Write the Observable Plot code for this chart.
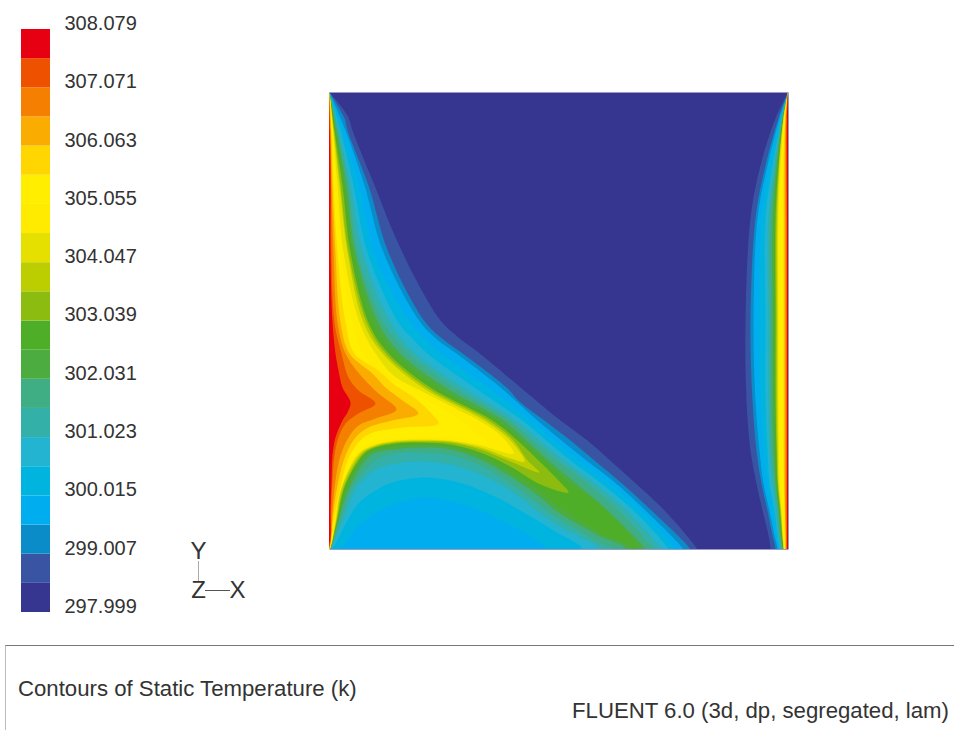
<!DOCTYPE html>
<html><head><meta charset="utf-8">
<script src="https://cdn.jsdelivr.net/npm/d3@7"></script>
<script src="https://cdn.jsdelivr.net/npm/@observablehq/plot@0.6"></script>
<style>
html,body{margin:0;padding:0;background:#fff}
#page{position:relative;width:954px;height:730px;overflow:hidden;font-family:"Liberation Sans",Arial,sans-serif;color:#333}
#page>svg,#page>figure{position:absolute;left:0;top:0;margin:0}
.foot{position:absolute;white-space:nowrap;font-size:22.2px;color:#333;line-height:24px}
#rule{position:absolute;left:5px;right:0;top:645px;height:85px;border-top:1.5px solid #777;border-left:1px solid #bbb}
</style></head><body><div id="page"></div>
<script>
// Temperature levels (K): 20 bands
const thresholds = [297.999,298.503,299.007,299.511,300.015,300.519,301.023,301.527,302.031,302.535,303.039,303.543,304.047,304.551,305.055,305.559,306.063,306.567,307.071,307.575,308.079];
const labelled = [297.999,299.007,300.015,301.023,302.031,303.039,304.047,305.055,306.063,307.071,308.079];
const colors = ["#36358f","#3a54a4","#0a8cc8","#00aeef","#00b4e0","#22b4d0","#33b0a8","#3fae85","#4dac40","#4fae28","#8cbc10","#bcce00","#e5e000","#ffeb00","#ffee00","#ffd600","#fbac00","#f47f00","#ee5200","#e60012"];

// Left-hand contours, one outline per level (region hotter than that level)
const left01=[[329,92],[347,115],[352,130],[363,158],[377,192],[387,218],[402,252],[417,282],[440,320],[458,337],[478,352],[520,387],[560,420],[587,440],[613,463],[632,480],[664,510],[697,549],[700,556],[325,556]];
const left02=[[329,92],[344,118],[347,130],[368,185],[388,252],[425,322],[444,340],[462,353],[506,387],[520,402],[544,420],[570,440],[594,460],[618,480],[651,510],[690,549],[693,556],[325,556]];
const left03=[[329,92],[345,130],[364,185],[383,252],[420,322],[439,341],[456,353],[500,387],[537,420],[561,440],[586,460],[612,480],[645,510],[683,549],[686,556],[325,556]];
const left04=[[329,92],[342,130],[358,185],[373,252],[410,322],[427,340],[441,353],[488,387],[530,420],[553,440],[578,460],[605,480],[640,510],[675,549],[677,556],[543,556],[545,548],[500,520],[460,503],[425,497],[390,505],[358,525],[340,548],[325,556]];
const left05=[[329,92],[340,130],[353,185],[367,252],[398,322],[412,338],[427,353],[474,387],[522,420],[546,440],[570,460],[597,480],[633,510],[668,549],[670,556],[580,556],[582,548],[558,533],[525,513],[492,495],[458,482],[425,477],[392,482],[375,490],[358,503],[347,520],[332,548],[325,556]];
const left06=[[329,92],[338,130],[350,185],[362,252],[390,322],[415,353],[462,387],[515,420],[539,440],[563,460],[590,480],[626,510],[660,549],[662,556],[596,556],[598,548],[580,537],[558,525],[540,513],[510,490],[480,474],[450,464],[420,461],[395,463],[375,469],[365,477],[356,487],[342,520],[330.5,548],[325,556]];
const left07=[[329,92],[337,130],[348,185],[357,252],[383,322],[408,353],[453,387],[509,420],[532,440],[556,460],[583,480],[618,510],[652,549],[654,556],[610,556],[612,548],[600,543],[580,531],[558,518],[540,505],[510,483],[480,465],[450,455],[420,452],[395,453],[375,460],[352,487],[340,520],[330,548],[325,556]];
const left08=[[329,92],[336,130],[346,185],[355,252],[378,322],[400,353],[445,387],[503,420],[526,440],[548,460],[572,480],[607,510],[645,549],[647,556],[623,556],[625,548],[600,536],[580,525],[558,512],[540,497],[510,476],[480,459],[450,449],[420,447],[395,449],[371,454],[349,487],[338,520],[329.8,548],[325,556]];
const left09=[[329,92],[335,130],[344,185],[353,252],[373,322],[395,353],[437,387],[497,420],[521,440],[544,460],[566,480],[606,510],[638,549],[639,556],[631,556],[632,548],[600,533],[580,520],[558,506],[540,491],[510,472],[480,455],[450,446],[420,444],[395,446],[367,453],[347,487],[337,520],[329.6,548],[325,556]];
const left10=[[329,92],[334,130],[342,185],[350,252],[368,322],[388,353],[430,387],[492,420],[517,440],[538,460],[558,480],[568,492],[540,484],[510,466],[480,452],[450,444],[420,442],[395,443],[375,447],[364,453],[345,484],[336.5,520],[330,547],[325,556]];
const left11=[[329,92],[333.5,130],[340,185],[348,252],[366,322],[385,353],[426,387],[488,420],[513,440],[527,460],[539,472],[510,461],[480,449],[450,442],[420,441],[395,442],[375,446],[362,453],[343,487],[336,520],[329.6,548],[325,556]];
const left12=[[329,92],[333,130],[339,185],[347,252],[363,322],[382,353],[422,387],[484,420],[510,440],[524,461],[510,458],[480,447],[450,441],[420,440],[395,441],[375,445],[360,453],[341.5,487],[335.5,520],[329.5,548],[325,556]];
const left13=[[329,92],[332.5,130],[337,185],[343,252],[359,322],[375,353],[393,375],[420,390],[453,407],[487,425],[505,440],[513,453],[480,445],[450,440],[420,439],[395,440],[375,444],[358,453],[340,487],[335,520],[329.5,548],[325,556]];
const left14=[[329,92],[332,130],[335,185],[340,252],[352,322],[362,353],[385,375],[420,396],[453,415],[470,428],[487,443],[450,437],[420,437],[395,438],[375,441],[360,450],[350,465],[340,490],[334,520],[329.5,548],[325,556]];
const left15=[[329,92],[331,130],[333,185],[337,252],[345,322],[354,353],[378,370],[395,385],[415,398],[430,412],[438,423],[403,427],[370,433],[357,443],[347,460],[340,487],[333,520],[329.5,548],[325,556]];
const left16=[[329,92],[330.5,130],[332,185],[335,252],[340,322],[349,353],[372,373],[385,387],[402,400],[418,413],[392,420],[368,427],[355,437],[345,455],[338,480],[333,510],[330,540],[325,556]];
const left17=[[329,92],[330,130],[331,185],[333,252],[337,322],[345,353],[362,377],[378,393],[396,409],[375,418],[358,425],[348,437],[340,455],[335,480],[332,510],[330,540],[325,556]];
const left18=[[329,92],[329.7,130],[330.5,185],[331,252],[334,322],[341,353],[348,377],[358,390],[375,403],[358,413],[345,423],[338,437],[334,455],[332,480],[330.5,515],[329.5,545],[325,556]];
const left19=[[329,92],[329.4,130],[330,185],[330,252],[332,322],[335,353],[338,370],[342,387],[350,402],[347,412],[342,420],[335,437],[332,455],[331,480],[330,510],[329.5,540],[325,556]];
const leftContours=[left01,left02,left03,left04,left05,left06,left07,left08,left09,left10,left11,left12,left13,left14,left15,left16,left17,left18,left19];

// Right-hand wall strip: contour x at these heights, one row per level
const rightHeights=[118,165,218,320,400,450,483,510,535,548];
const rightContours=[
[775,760,750,745,746,750,756,762,768,770],
[778,765,755,750,752,756,761,767,772,775],
[779,767,757,753,755,759,763,769,774,777],
[780,769,761,759,760,763,767,772,776,778],
[781,772,765,765,765,767,769,774,777,779],
[781,774,768,768,768,769,772,776,778,780],
[782,775,770,770,770,771,774,777,779,781],
[782,776,772,772,772,773,775,778,780,782],
[782.5,777,774,774,774,775,776,779,781,782.5],
[783,778,775,775,775,776,777,779.5,781.5,783],
[783,778.5,776,776,776,776.5,777.5,780,782,783],
[783,779,777,777,777,777.5,778,780.5,782,783],
[783.5,780,778,778,778,778.5,779,781,782.5,783.5],
[784,781,780,780,780,780,781,782,783,784],
[784.5,783,783,783,783,783,783.5,784,784,784.5],
[785,784,784,784,784,784,784,784.5,785,785],
[785.5,785,785,785,785,785,785,785,785.5,785.5],
[786,785.5,786,786,786,786,786,786,786,786],
[786.5,786.5,786.5,786.5,786.5,786.5,786.5,786.5,786.5,786.5]];

const axesLetters=[{t:"Y",x:198,y:551},{t:"Z",x:198,y:590},{t:"X",x:237,y:590}];

const rows=[];
leftContours.forEach((pts,i)=>pts.forEach(([x,y])=>rows.push({band:thresholds[i+1],part:"L"+i,x,y})));
rightContours.forEach((xs,i)=>{
  const pts=[[787.5,92],...xs.map((x,j)=>[x,rightHeights[j]]),[xs[xs.length-1],556],[792,556],[792,90]];
  pts.forEach(([x,y])=>rows.push({band:thresholds[i+1],part:"R"+i,x,y}));
});
const colorScale={type:"ordinal",domain:thresholds.slice(0,-1),range:colors};

const main=Plot.plot({
  width:954,height:730,marginLeft:329,marginRight:166,marginTop:92,marginBottom:181,
  x:{domain:[329,788],axis:null},y:{domain:[549,92],axis:null},color:colorScale,
  style:{background:"transparent",fontFamily:"'Liberation Sans',Arial,sans-serif"},
  marks:[
    Plot.frame({fill:colors[0],stroke:null}),
    Plot.line(rows,{x:"x",y:"y",z:"part",fill:"band",stroke:"none",curve:"catmull-rom",clip:"frame"}),
    Plot.ruleX([198],{y1:561,y2:581,stroke:"#aaa",strokeWidth:1}),
    Plot.ruleY([590],{x1:205,x2:230,stroke:"#555",strokeWidth:1}),
    Plot.text(axesLetters,{x:"x",y:"y",text:"t",fontSize:24,fill:"#333"})
  ]
});
const legendBands=thresholds.slice(0,-1).map((t,i)=>({lo:t,hi:thresholds[i+1]}));
const legend=Plot.plot({
  width:160,height:640,marginLeft:21,marginRight:110,marginTop:29,marginBottom:28,
  x:{domain:[0,1],axis:null},y:{domain:[297.999,308.079],axis:null},color:colorScale,
  style:{background:"transparent",fontFamily:"'Liberation Sans',Arial,sans-serif"},
  marks:[
    Plot.rect(legendBands,{x1:0,x2:1,y1:"lo",y2:"hi",fill:"lo"}),
    Plot.axisY(labelled,{anchor:"right",label:null,tickSize:0,tickPadding:14,dy:-6,tickFormat:d3.format(".3f"),fontSize:20,fill:"#333"})
  ]
});
const page=document.getElementById("page");
page.append(main,legend);
page.insertAdjacentHTML("beforeend",`<div id="rule"></div>
<div class="foot" style="left:18px;top:677px">Contours of Static Temperature (k)</div>
<div class="foot" style="left:572px;top:699px">FLUENT 6.0 (3d, dp, segregated, lam)</div>`);
</script></body></html>
